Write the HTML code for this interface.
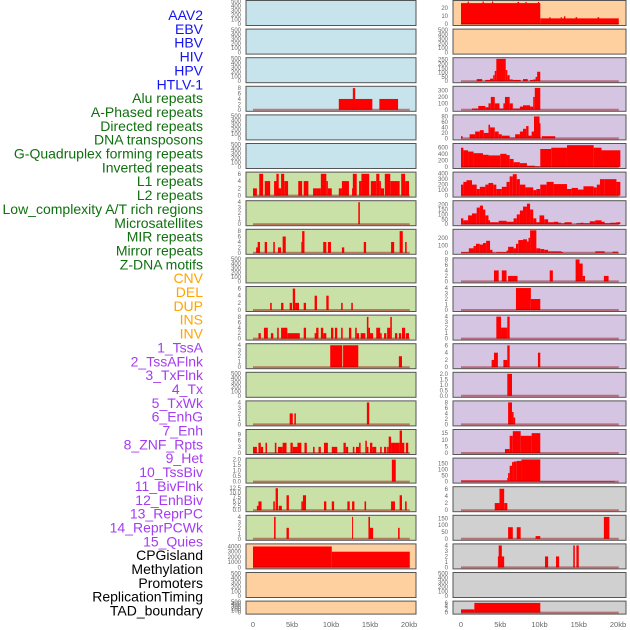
<!DOCTYPE html>
<html><head><meta charset="utf-8"><style>
html,body{margin:0;padding:0;background:#fff;}
svg{display:block;font-family:"Liberation Sans",sans-serif;}
</style></head><body>
<svg id="chart" width="630" height="630" viewBox="0 0 630 630" xmlns="http://www.w3.org/2000/svg"></svg>
<script>
const labels = ["AAV2","EBV","HBV","HIV","HPV","HTLV-1","Alu repeats","A-Phased repeats","Directed repeats","DNA transposons","G-Quadruplex forming repeats","Inverted repeats","L1 repeats","L2 repeats","Low_complexity A/T rich regions","Microsatellites","MIR repeats","Mirror repeats","Z-DNA motifs","CNV","DEL","DUP","INS","INV","1_TssA","2_TssAFlnk","3_TxFlnk","4_Tx","5_TxWk","6_EnhG","7_Enh","8_ZNF_Rpts","9_Het","10_TssBiv","11_BivFlnk","12_EnhBiv","13_ReprPC","14_ReprPCWk","15_Quies","CPGisland","Methylation","Promoters","ReplicationTiming","TAD_boundary"];
const labelGroups = ["v","v","v","v","v","v","r","r","r","r","r","r","r","r","r","r","r","r","r","s","s","s","s","s","c","c","c","c","c","c","c","c","c","c","c","c","c","c","c","o","o","o","o","o"];
const xTicks = [0,5,10,15,20];
const xTickLabels = ["0","5kb","10kb","15kb","20kb"];
const emptyTicks = [0,100,200,300,400,500];

// segments: [startKb, endKb, value]
const segHIV = [[11,15.3,4],[12.8,13.1,8],[16.2,18.6,4]];
const segAlu = [[0,0.5,2],[0.8,1.3,6],[1.5,2.2,4],[2.7,3.2,4],[3.0,3.3,6],[3.2,3.6,2],[3.6,4.0,6],[4.0,4.5,4],[5.8,6.3,4],[6.5,7.1,4],[7.7,8.2,2],[8.2,8.7,2],[8.7,9.4,6],[9.4,9.6,4],[9.6,10.1,2],[11,11.4,2],[11.4,12.3,4],[12.7,12.8,2],[12.8,13.3,6],[13.6,13.9,4],[13.9,14.9,6],[15.1,15.8,4],[15.8,16.2,6],[16.2,16.4,4],[16.4,16.8,2],[16.9,17.6,6],[17.6,18.8,4],[19,19.5,6],[19.5,20,4]];
const segAPhased = [[13.5,13.7,4]];
const segDirected = [[0.4,0.7,2],[0.6,0.9,4],[1.5,1.8,4],[2.6,2.8,4],[3.2,3.6,2],[3.8,4.2,6],[6.2,6.4,4],[6.3,6.6,8],[9,9.4,4],[9.6,10,4],[11.4,11.7,2],[14.2,14.5,4],[17.7,18.1,4],[18.8,19.2,8],[19.5,19.7,4]];
const segGQuad = [[2.2,2.4,2],[3.6,3.9,2],[4.7,5,2],[5.1,5.4,6],[5.4,5.9,2],[6.5,6.8,2],[7.9,8.2,4],[9.4,9.7,4],[11.3,11.5,2],[12.6,12.8,2]];
const segInverted = [[0.7,1,2],[1.4,1.9,4],[2.3,2.6,2],[3.1,3.3,4],[3.6,4.4,4],[4.4,6,2],[6.5,6.8,4],[7.9,8.2,2],[8.1,8.4,4],[8.7,9,4],[9,9.4,2],[10,10.3,4],[10.5,10.8,4],[11.3,11.5,4],[12.3,12.6,4],[13.1,13.3,4],[13.3,13.6,2],[13.8,14.4,2],[14.6,14.8,8],[14.8,15,4],[15,15.4,2],[15.8,16.3,4],[16.3,16.5,2],[16.8,17.1,2],[17.2,17.6,4],[17.6,17.8,8],[18.2,18.5,2],[18.7,19,2],[19.1,19.5,4],[19.6,20,2]];
const segL1 = [[9.9,11.45,4],[11.55,13.5,4],[18.7,19.1,2]];
const segLowAT = [[4.7,5.1,2],[5.3,5.5,2],[14.6,14.9,4]];
const segMicro = [[0,0.5,3],[0.7,1,5],[1,1.3,3],[1.6,1.8,5],[2.8,3,5],[3.2,3.8,3],[3.8,4.3,5],[4.8,5.1,5],[5.1,5.7,3],[5.7,6.2,5],[6.6,6.9,5],[7.7,7.9,3],[8.4,8.7,3],[9.1,9.6,5],[10.1,10.8,3],[11.6,11.9,5],[11.9,12.2,3],[12.8,13,3],[13.2,13.6,3],[13.6,13.8,5],[14.4,14.6,6],[14.6,14.8,3],[15,15.3,5],[15.3,15.8,3],[16.3,16.5,3],[16.8,17.1,3],[17.2,17.4,3],[17.4,17.7,8],[17.7,18.8,5],[18.8,19.1,11],[19.1,19.4,5],[19.6,19.9,5]];
const segMIR = [[17.8,18.3,2]];
const segMirror = [[0.5,0.7,2.5],[0.7,1.1,5],[2.6,2.8,5],[2.9,3.2,12.5],[3.3,3.7,2.5],[4.3,4.6,8.5],[6.2,6.4,5],[6.4,6.8,8.5],[9.1,9.4,5],[10.1,10.4,5],[12.1,12.4,5],[12.7,13,5],[14.3,14.5,5],[17.7,18.2,5],[18.8,19.1,8.5],[19.5,19.7,5]];
const segZDNA = [[2.7,2.9,4],[4.3,4.6,2],[12.7,12.8,4],[14.8,15,4],[15,15.4,2],[18.6,18.8,2]];
const segCNV = [[0,10.1,4000],[10.1,20.1,3000]];
const segINS = [[0,10.1,26],[0.85,1,28],[2.75,2.9,28],[3.95,4.1,28],[7.2,7.4,27.5],[8.2,8.35,27.5],[9.8,9.95,27.5],[10.1,20.1,7],[11.25,11.4,8.5],[12.7,12.85,8.5],[13.1,13.3,9.5],[14.6,14.8,8.5],[17.4,17.6,8.5]];
const segTssA = [[2,2.7,25],[3.1,3.7,15],[3.7,4.1,30],[4.1,4.3,70],[4.3,4.5,120],[4.5,5.7,260],[5.7,5.9,130],[5.9,6.2,70],[6.2,6.6,20],[6.6,7.6,15],[7.9,8.5,25],[8.8,9.2,15],[9.2,9.5,20],[9.5,9.7,50],[9.7,10.1,110]];
const segTssAFlnk = [[1.4,2.2,20],[2.2,3.1,60],[3.1,3.5,40],[3.5,3.8,100],[3.8,4.3,200],[4.3,4.9,100],[4.9,5.4,20],[5.4,5.6,100],[5.6,6.2,200],[6.2,6.6,100],[6.6,7.1,20],[7.1,7.5,20],[7.5,7.9,50],[7.9,8.8,70],[8.8,9.2,50],[9.2,9.4,200],[9.4,10.1,340]];
const segTxFlnk = [[0,0.2,8],[1.1,1.8,15],[1.8,2.4,25],[2.4,2.9,30],[2.9,3.5,20],[3.5,3.7,50],[3.7,4.3,40],[4.3,4.8,25],[4.8,5.2,15],[5.2,6.2,10],[6.2,6.9,3],[6.9,7.5,15],[7.5,7.9,25],[7.9,8.3,35],[8.3,8.6,45],[8.6,9,10],[9,9.3,25],[9.3,10,80],[10,10.1,55],[10.3,12,8]];
const segTx = [[0,0.3,600],[0.3,0.9,520],[0.9,1.6,480],[1.6,2.8,430],[2.8,3.5,380],[3.5,5,360],[5,5.8,410],[5.8,6.2,370],[6.2,6.7,250],[6.7,7.5,150],[7.5,8.4,120],[8.4,9.4,40],[9.4,10,20],[10.1,11.5,560],[11.5,13.5,600],[13.5,16.9,680],[16.9,17.9,600],[17.9,20.3,520]];
const segTxWk = [[0,0.3,200],[0.3,0.7,250],[0.7,1.4,280],[1.4,2,200],[2,2.4,120],[2.4,3.1,160],[3.1,3.5,200],[3.5,4.1,230],[4.1,4.5,200],[4.5,5.2,120],[5.2,5.8,160],[5.8,6.2,250],[6.2,6.6,350],[6.6,7.1,390],[7.1,7.5,300],[7.5,8.2,200],[8.2,9.2,150],[9.2,9.6,100],[9.6,10.1,120],[10.1,10.9,200],[10.9,11.8,250],[11.8,13.5,210],[13.5,14.1,120],[14.1,14.9,140],[14.9,15.6,110],[15.6,16.9,170],[16.9,17.3,150],[17.3,17.7,200],[17.7,18.3,300],[18.3,19.8,300],[19.8,20.3,250]];
const segEnhG = [[0,0.3,60],[0.3,0.9,40],[0.9,1.4,90],[1.4,2,110],[2,2.4,170],[2.4,2.8,190],[2.8,3.1,150],[3.1,3.5,90],[3.5,3.7,40],[3.7,4.8,20],[4.8,5.8,35],[5.8,6.7,25],[6.7,7.1,60],[7.1,7.5,100],[7.5,7.9,140],[7.9,8.4,180],[8.4,8.8,210],[8.8,9.2,150],[9.2,9.6,60],[9.6,10,20],[10,10.6,90],[10.6,11.1,50],[11.1,11.8,20],[11.8,12.4,25],[12.4,12.8,15],[12.9,13.2,10],[13.2,14.1,20],[14.7,15.2,10],[15.2,15.6,15],[15.6,16.4,10],[16.4,17.1,30],[17.1,17.9,40],[17.9,18.3,25],[18.3,19,10],[19,19.8,15],[19.8,20.3,20]];
const segEnh = [[0,1,10],[1,1.6,60],[1.6,1.9,90],[1.9,2.4,120],[2.4,2.8,110],[2.8,3.2,130],[3.2,3.7,160],[3.7,4,40],[4,4.3,5],[4.5,5.8,10],[5.8,6,30],[6,6.7,80],[6.7,7,60],[7,7.3,120],[7.3,7.9,170],[7.9,8.4,180],[8.4,8.6,150],[8.6,8.8,200],[8.8,9.6,300],[9.6,10.1,60],[10.1,10.6,50],[10.6,11.1,40],[11.1,11.5,20],[11.5,12.8,20],[12.8,13,10],[17.1,18.3,20],[19.3,20,15]];
const segZNF = [[4.2,4.8,4],[5.2,5.8,4],[6,7.2,2],[11.3,11.7,4],[14.6,15.1,8],[15.1,15.5,6.5],[15.5,15.8,2],[18.2,18.8,2]];
const segHet = [[7,8.9,4],[8.9,10.1,2]];
const segTssBiv = [[4.5,5.1,4],[5.1,5.9,2],[5.9,6.2,4]];
const segBivFlnk = [[3.9,4.2,2],[4.2,4.7,4],[5.4,5.9,2],[5.9,6.2,6],[9.8,10.1,4]];
const segEnhBiv = [[5.9,6.5,2]];
const segReprPC = [[6,6.5,8],[6.5,6.7,4.5],[6.7,6.9,2.5]];
const segReprPCWk = [[5.6,6.2,3],[6.2,6.6,13],[6.6,7.6,16.5],[7.6,9,13],[9,10.1,15]];
const segQuies = [[0,5.9,10],[5.9,6,30],[6,6.2,70],[6.2,6.5,130],[6.5,6.7,160],[6.7,7.1,165],[7.1,7.7,170],[7.7,10.1,182],[10.1,19.6,5]];
const segCPG = [[4.3,4.9,2],[4.9,5.5,6],[5.5,5.9,2]];
const segMeth = [[6,6.6,85],[7.1,7.6,85],[9.5,10.1,20],[18.2,18.9,160]];
const segProm = [[4.7,5.5,2],[4.8,5.2,4],[10.7,11.1,2],[12.1,12.5,2],[14.3,14.5,4],[14.7,15,4]];
const segTAD = [[0,1.7,2],[1.7,10.1,6]];

// per panel: segments, y ticks, y max (value at top of plot area), baseline extent kb
const panelSegs = [null,null,null,segHIV,null,null,segAlu,segAPhased,segDirected,null,segGQuad,segInverted,segL1,null,segLowAT,segMicro,segMIR,segMirror,segZDNA,segCNV,null,null,
  segINS,null,segTssA,segTssAFlnk,segTxFlnk,segTx,segTxWk,segEnhG,segEnh,segZNF,segHet,segTssBiv,segBivFlnk,segEnhBiv,segReprPC,segReprPCWk,segQuies,segCPG,segMeth,segProm,null,segTAD];
const panelTicks = [null,null,null,[0,2,4,6,8],null,null,[0,2,4,6],[0,1,2,3,4],[0,2,4,6,8],null,[0,2,4,6],[0,2,4,6,8],[0,1,2,3,4],null,[0,1,2,3,4],[0,3,6,9],[0,0.5,1,1.5,2],[0,2.5,5,7.5,10,12.5],[0,1,2,3,4],[0,1000,2000,3000,4000],null,null,
  [0,10,20],null,[0,50,100,150,200,250],[0,100,200,300],[0,20,40,60,80],[0,200,400,600],[0,100,200,300,400],[0,50,100,150,200],[0,100,200],[0,2,4,6,8],[0,1,2,3,4],[0,1,2,3,4],[0,2,4,6],[0,0.5,1,1.5,2],[0,2,4,6,8],[0,5,10,15],[0,50,100,150],[0,2,4,6],[0,50,100,150],[0,1,2,3,4],null,[0,2,4,6]];
const panelTickDigits = [0,0,0,0,0,0,0,0,0,0,0,0,0,0,0,0,1,1,0,0,0,0, 0,0,0,0,0,0,0,0,0,0,0,0,0,1,0,0,0,0,0,0,0,0];
const panelYMax = [500,500,500,8.3,500,500,6.2,4.1,8.3,500,6.3,8.3,4.1,500,4.1,11,2.05,12.8,4.1,4300,500,500,
  28,500,262,350,82,700,410,230,300,8.2,4.1,4.1,6.2,2.05,8.2,17,185,6.3,165,4.1,500,6.5];
const panelBaseEnd = [0,0,0,20.1,0,0,20.1,20.1,20.1,0,20.1,20.1,20.1,0,20.1,20.1,20.1,20.1,20.1,20.1,0,0,
  20.1,0,20.1,20.1,20.1,20.1,20.1,20.1,20.1,20.1,20.1,20.1,20.1,20.1,20.1,20.1,20.1,20.1,20.1,20.1,0,20.1];

const NS = "http://www.w3.org/2000/svg";
const svg = document.getElementById("chart");
function mk(tag, attrs, parent){ const e=document.createElementNS(NS,tag); for(const k in attrs) e.setAttribute(k,attrs[k]); (parent||svg).appendChild(e); return e; }

const labelColor = {v:"#1414f0", r:"#10700f", s:"#ffa500", c:"#a43cf0", o:"#000000"};
const bgColor = {v:"#c7e4ec", r:"#c9e1a6", s:"#ffd09f", c:"#d5c5e2", o:"#d0d0d0"};

// labels
labels.forEach((t,i)=>{
  const el = mk("text",{x:203,y:(15+i*13.85+5).toFixed(1),"text-anchor":"end","font-size":"14",fill:labelColor[labelGroups[i]]});
  el.textContent = t;
  
  
});

const cols = [{x0:246,x1:416,zero:253,scale:7.8,tickX:241},{x0:453,x1:626,zero:461,scale:7.85,tickX:448}];
function xPos(col,kb){ return col.zero + kb*col.scale; }

for(let p=0;p<44;p++){
  const ci = p<22?0:1, r = p%22, col = cols[ci];
  const top = r*28.6 + 0.5, h = r===21?13:25, bottom = top+h;
  const g = mk("g",{});
  
  
  const bg = mk("rect",{x:col.x0,y:top,width:col.x1-col.x0,height:h,fill:bgColor[labelGroups[p]],stroke:"#555",'stroke-width':1},g);
  
  
  const y0 = bottom-1.5, yTop = top+1;
  const ymax = panelYMax[p];
  const yPos = v => y0 - v/ymax*(y0-yTop);
  const ticks = panelTicks[p] || emptyTicks;
  ticks.forEach(t=>{
    const tl = mk("text",{x:col.tickX,y:(yPos(t)+2).toFixed(1),"text-anchor":"end","font-size":"6",fill:"#666"},g);
    tl.textContent = t.toFixed(panelTickDigits[p]);
    
    
  });
  const segs = panelSegs[p];
  if(segs){
    segs.forEach(s=>{
      const xa = xPos(col,s[0]), xb = xPos(col,s[1]);
      const bar = mk("rect",{x:xa.toFixed(2),y:yPos(s[2]).toFixed(2),width:Math.max(1,xb-xa).toFixed(2),height:(y0-yPos(s[2])).toFixed(2),fill:"#ff0000"},g);
      
      
    });
  }
  if(panelBaseEnd[p]>0){
    const bl = mk("line",{x1:xPos(col,0),x2:xPos(col,panelBaseEnd[p]),y1:y0,y2:y0,stroke:"rgba(150,0,0,0.45)","stroke-width":2},g);
    
    
  }
}

// x axes
cols.forEach((col,ci)=>{
  xTicks.forEach((t,i)=>{
    const tl = mk("text",{x:xPos(col,t),y:627,"text-anchor":"middle","font-size":"7.5",fill:"#666"});
    tl.textContent = xTickLabels[i];
    
    
  });
});
</script>
</body></html>
